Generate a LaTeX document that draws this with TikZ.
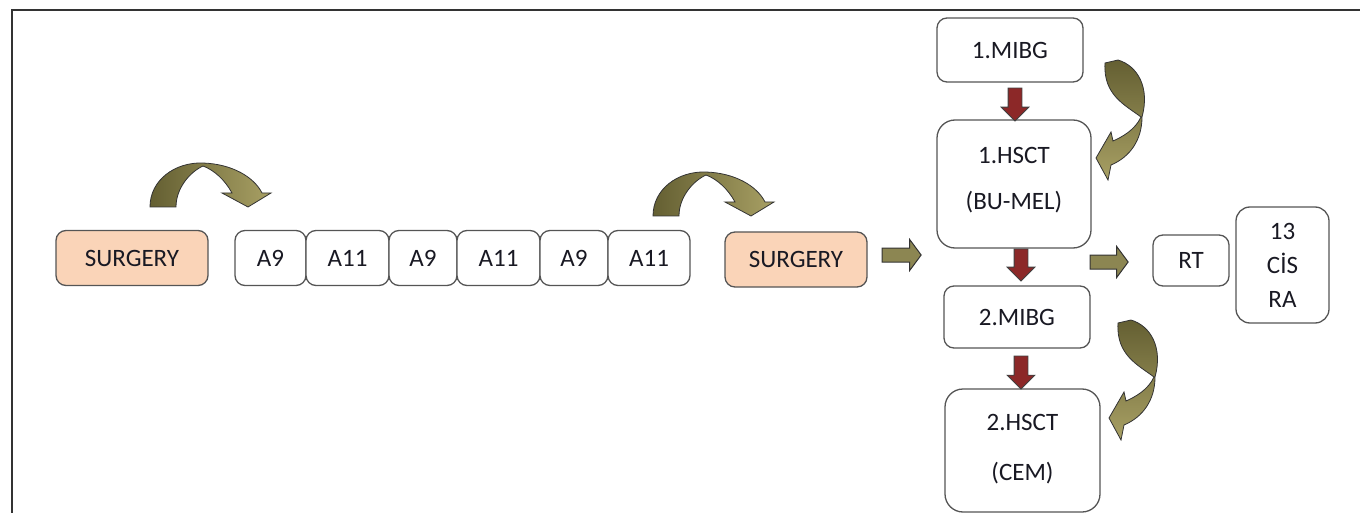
\documentclass[tikz,border=0pt]{standalone}
\usepackage{fontspec}
\setmainfont{Carlito}
\usepackage{xcolor}
\usepackage{tikz}
\usetikzlibrary{shapes.arrows,calc}

\definecolor{peach}{RGB}{250,212,184}
\definecolor{boxline}{RGB}{85,85,85}
\definecolor{olivedark}{RGB}{100,95,50}
\definecolor{olivelight}{RGB}{168,160,100}
\definecolor{olivemid}{RGB}{140,134,82}
\definecolor{darkred}{RGB}{140,40,40}
\definecolor{txt}{RGB}{25,25,35}

\begin{document}
\begin{tikzpicture}[x=1pt,y=-1pt,
  box/.style={draw=boxline,line width=1.3pt,rounded corners=10pt,fill=white,inner sep=0pt,
    align=center,text=txt,font=\fontsize{25}{34}\selectfont},
  surg/.style={box,fill=peach,minimum height=55pt},
  chain/.style={box,minimum height=55pt},
  redarrow/.style={single arrow,draw=black!75,fill=darkred,line width=0.8pt,inner xsep=0pt,
    inner ysep=6.5pt,single arrow head extend=7pt,single arrow tip angle=90,rotate=-90,anchor=tail},
  olivearrow/.style={single arrow,draw=black!80,fill=olivemid,line width=1pt,inner xsep=0pt,
    inner ysep=6.5pt,single arrow head extend=8.5pt,single arrow tip angle=107,anchor=tail},
  curvearrow/.style={draw=black!80,line width=0.8pt}]
\useasboundingbox (0,0) rectangle (1360,513);
\draw[black!80,line width=2pt] (12,513) -- (12,10) -- (1360,10);

\node[surg,minimum width=152pt] at (132,258) (surg1) {SURGERY};
\node[chain,minimum width=71pt] at (270.5,258) (a1) {A9};
\node[chain,minimum width=83pt] at (347.5,258) (a2) {A11};
\node[chain,minimum width=68pt] at (423,258) (a3) {A9};
\node[chain,minimum width=83pt] at (498.5,258) (a4) {A11};
\node[chain,minimum width=68pt] at (574,258) (a5) {A9};
\node[chain,minimum width=82pt] at (649,258) (a6) {A11};
\node[surg,minimum width=142pt] at (796,259.5) (surg2) {SURGERY};

\node[box,minimum width=146pt,minimum height=64pt] at (1010,50) (mibg1) {1.MIBG};
\node[box,rounded corners=18pt,minimum width=154pt,minimum height=128pt] at (1014,184) (hsct1) {1.HSCT\\[12pt](BU-MEL)\\[-22pt]{}};
\node[box,minimum width=146pt,minimum height=62pt] at (1017,317) (mibg2) {2.MIBG};
\node[box,rounded corners=18pt,minimum width=155pt,minimum height=123pt] at (1022.5,450.5) (hsct2) {2.HSCT\\[16pt](CEM)\\[-28pt]{}};
\node[box,minimum width=76pt,minimum height=51pt] at (1191,260.5) (rt) {RT};
\node[box,rounded corners=14pt,minimum width=93pt,minimum height=116pt] at (1282.5,265) (cis) {13\\CİS\\RA};

\node[redarrow,minimum height=33pt] at ($(mibg1.south)+(5,5)$) (r1) {};
\node[redarrow,minimum height=32pt] at ($(hsct1.south)+(7,0)$) (r2) {};
\node[redarrow,minimum height=33pt] at ($(mibg2.south)+(4,7)$) (r3) {};

\node[olivearrow,minimum height=39pt] at ($(surg2.east)+(14,-4.5)$) (g1) {};
\node[olivearrow,minimum height=38pt] at ($(hsct1.east |- rt.west)+(-2,1.5)$) (g2) {};

\shade[curvearrow,left color=olivedark,right color=olivelight]
  (150,207) .. controls (150,180) and (175,162) .. (203,163)
  .. controls (232,164) and (254,177) .. (262,193)
  -- (271,193) -- (248,207) -- (222,193) -- (232,193)
  .. controls (225,180) and (214,170) .. (203,166)
  .. controls (190,172) and (176,188) .. (176,207) -- cycle;
\begin{scope}[shift={(503,9)}]
\shade[curvearrow,left color=olivedark,right color=olivelight]
  (150,207) .. controls (150,180) and (175,162) .. (203,163)
  .. controls (232,164) and (254,177) .. (262,193)
  -- (271,193) -- (248,207) -- (222,193) -- (232,193)
  .. controls (225,180) and (214,170) .. (203,166)
  .. controls (190,172) and (176,188) .. (176,207) -- cycle;
\end{scope}

\shade[curvearrow,top color=olivedark,bottom color=olivelight]
  (1105,63) .. controls (1103,95) and (1125,105) .. (1141,117)
  .. controls (1135,130) and (1122,137) .. (1113,141)
  -- (1111,132) -- (1096,158) -- (1108,180) -- (1111,165)
  .. controls (1130,157) and (1142,140) .. (1142,117)
  .. controls (1150,88) and (1138,66) .. (1118,60) -- cycle;
\begin{scope}[shift={(13,260)}]
\shade[curvearrow,top color=olivedark,bottom color=olivelight]
  (1105,63) .. controls (1103,95) and (1125,105) .. (1141,117)
  .. controls (1135,130) and (1122,137) .. (1113,141)
  -- (1111,132) -- (1096,158) -- (1108,180) -- (1111,165)
  .. controls (1130,157) and (1142,140) .. (1142,117)
  .. controls (1150,88) and (1138,66) .. (1118,60) -- cycle;
\end{scope}
\end{tikzpicture}
\end{document}
